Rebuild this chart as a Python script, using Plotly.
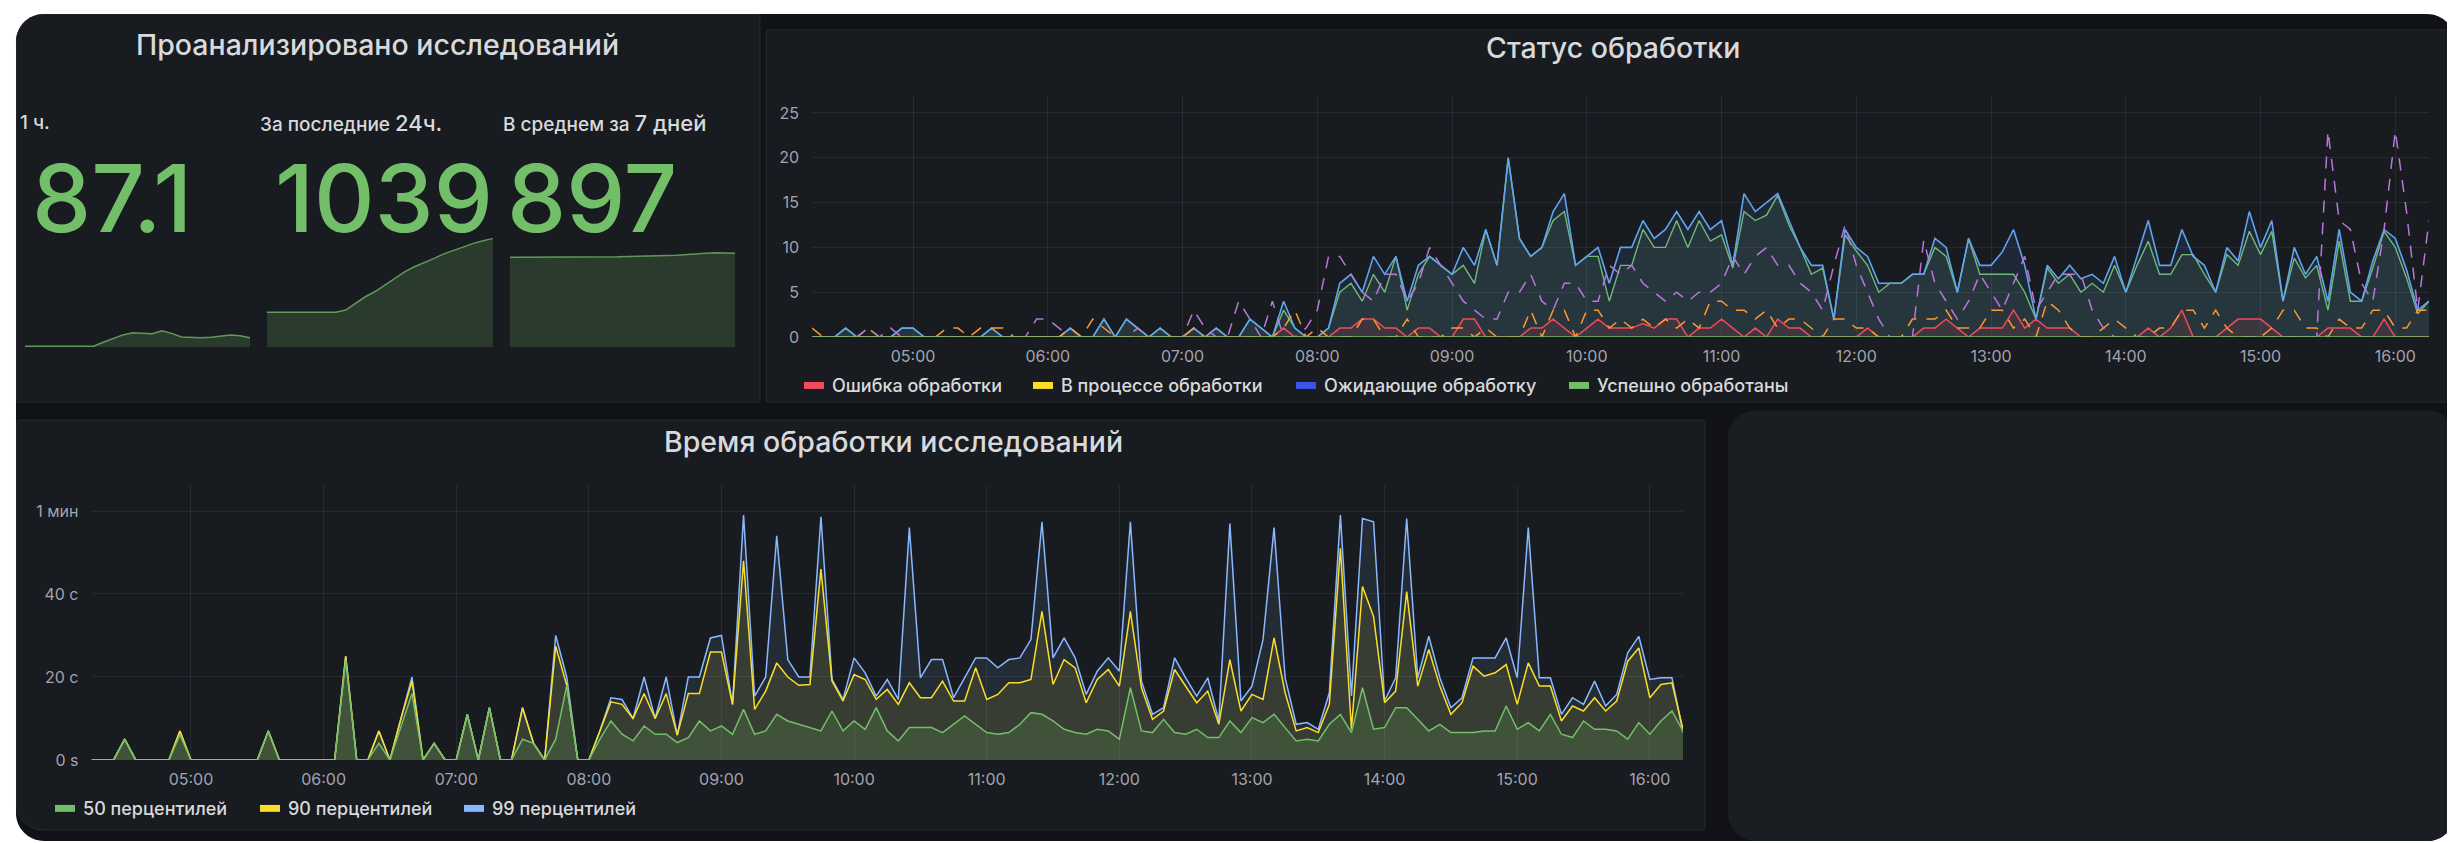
import plotly.graph_objects as go
import pandas as pd

W, H = 2455, 843

# ---------------- DATA ----------------
times = pd.date_range("2024-05-20 04:15", "2024-05-20 16:15", freq="5min")

status_total = [0,0,0,1,0,0,0,0,1,1,
                0,0,0,0,0,0,1,0,0,0,
                0,0,0,1,0,0,2,0,2,1,
                0,1,0,0,1,0,1,0,0,2,
                1,0,4,1,0,0,1,6,7,5,
                9,7,9,4,8,9,8,7,10,8,
                12,8,20,11,9,10,14,16,8,9,
                10,6,10,10,13,11,12,14,12,14,
                12,13,8,16,14,15,16,13,10,8,
                8,2,12,10,9,6,6,6,7,7,
                11,10,5,11,8,8,9.5,12,8,2,
                8,6.5,8,6.5,7,6,9,5,9,13,
                8,8,12,9,8,5,10,8.5,14,10,
                13,4,10,7,9,4,12,5,4,8.5,
                12,11,7.5,3,4]
status_success = [0,0,0,1,0,0,0,0,1,1,
                  0,0,0,0,0,0,1,0,0,0,
                  0,0,0,1,0,0,2,0,2,1,
                  0,1,0,0,1,0,1,0,0,2,
                  1,0,3,1,0,0,1,5,6,4,
                  7,5,9,3,7,9,8,7,8,6,
                  12,8,20,11,9,10,13,14,8,9,
                  9,4,8,8,12,10,10,13,10,13,
                  10.7,11.4,7.7,14,13,13.6,15.8,12.5,10,7,
                  7.7,2,11.4,9.6,8,5,6,6,7,7,
                  10,9,5,11,7,7,7,7,5,2,
                  7.7,6,7,5,6,5,8,5,8,10.7,
                  7,7,9.2,9.2,7,5,9.2,8,11.8,9.2,
                  11.8,4,8.8,6.6,8,3,10.7,4,4,7.7,
                  11.8,10,6.6,2.6,4]
status_error = [0,0,0,0,0,0,0,0,0,0,
                0,0,0,0,0,0,0,0,0,0,
                0,0,0,0,0,0,0,0,0,0,
                0,0,0,0,0,0,0,0,0,0,
                0,0,1,0,0,0,0,1,1,2,
                2,1,1,0,1,1,0,0,2,2,
                0,0,0,0,1,1,2,1,0,1,
                2,1,1,1,1.5,1,2,2,0,1,
                1,2,1,0,1,0,2,1,1,0,
                0,0,0,0,1,0,0,0,0,1,
                1,2,1,0,1,1,1,3,1,2,
                1,1,1,0,0,0,0,0,0,1,
                0,1,3,0,0,0,1,2,2,2,
                1,0,0,0,0,1,1,1,0,0,
                2,0,0,0,0]
status_in_progress = [1,0,0,0,0,1,0,0,0,0,
                      0,0,1,1,0,1,1,1,0,0,
                      0,0,0,1,0,2,1,0,0,0,
                      0,0,0,0,1,0,0,0,0,0,
                      0,0,1,3,0,1,0,0,0,2,
                      2,0,0,2,0,0,0,1,1,0,
                      1,0,0,0,3,0,3,3,0,3,
                      3,1,2,1,2,1,2,1,2,1,
                      4,4,3,3,2,3,1,2,2,1,
                      0,2,2,1,1,0,0,0,2,2,
                      2,3,1,1,1,3,3,1,2,0,
                      4,3,1,0,0,1,2,1,0,0,
                      1,1,3,3,1,3,1,0,0,0,
                      1,3,3,1,1,0,2,1,1,3,
                      3,1,1,3,3]
status_pending = [0,0,0,0,0,1,0,1,0,0,
                  0,0,0,0,0,0,0,0,0,0,
                  2,2,1,0,0,0,0,0,0,1,
                  0,0,0,0,3,1,0,0,4,2,
                  0,4,0,0,1,3,9,9,7,5,
                  4,7,7,4,6,10,8,6,4,3,
                  2,2,5,5,7,4,3,6,6,4,
                  4,8,7,8,6,5,4,5,4,5,
                  5,6,9,7,9,10,8,8,6,5,
                  3,8,12.5,8,5,2,0,0,0,10.8,
                  6,4,2,4,7,5,3,6,9,3,
                  5,7,7,7,3,1,0,0,0,0,
                  0,0,0,0,0,0,0,0,0,0,
                  0,0,0,0,0,23,13,12,6,4,
                  12,23,14,3,13]
status_waiting = [0,0,0,0,0,0,0,0,0,0, 0,0,0,0,0,0,0,0,0,0,
                  0,0,0,0,0,0,0,0,0,0, 0,0,0,0,0,0,0,0,0,0,
                  0,0,0,0,0,0,0,0,0,0, 0,0,0,0,0,0,0,0,0,0,
                  0,0,0,0,0,0,0,0,0,0, 0,0,0,0,0,0,0,0,0,0,
                  0,0,0,0,0,0,0,0,0,0, 0,0,0,0,0,0,0,0,0,0,
                  0,0,0,0,0,0,0,0,0,0, 0,0,0,0,0,0,0,0,0,0,
                  0,0,0,0,0,0,0,0,0,0, 0,0,0,0,0,0,0,0,0,0,
                  0,0,0,0,0]

p99 = [0,0,0,5,0,0,0,0,7,0,
       0,0,0,0,0,0,7,0,0,0,
       0,0,0,25,0,0,7,0,10,20,
       0,4,0,0,11,0,12.6,0,0,12.6,
       4,0,30,20,0,0,7,15,14.6,10,
       20,10,20,6,20,20,29.4,30,13.4,59,
       15.4,20,54,24.2,20,20,58.6,19.4,14.6,24.6,
       21,15.4,19.4,14.6,56,19.8,24.2,24.2,15,19.8,
       24.6,24.6,22.2,24.2,24.6,29,57.4,24.6,29.4,24.6,
       15.8,21.4,24.6,21.4,57.4,19,11,12.6,24.6,19.8,
       15.4,19.8,9.4,57,14.2,17.8,29,56,19.8,8.6,
       9,7.4,16.2,59,15.4,58.2,57.4,14.2,19.8,58.2,
       19.8,29.8,19.8,12.6,15,24.6,24.6,24.6,29.4,19.8,
       56,19.8,19.8,11,15,13.4,19,13,15.8,25.8,
       29.8,19.4,19.8,19.8,6.6]
p90 = [0,0,0,5,0,0,0,0,7,0,
       0,0,0,0,0,0,7,0,0,0,
       0,0,0,25,0,0,7,0,10,19,
       0,4,0,0,11,0,12.6,0,0,12.6,
       4,0,27.4,18,0,0,7,14,13.4,10,
       16,10,16,6,16,16,26,26,13.4,48,
       12.2,16.6,23.4,20,18,18.2,46,19,14.2,20.6,
       19.4,14.6,17,13.4,18.6,15,15,19,14.2,14.2,
       22.2,14.6,15.8,18.6,18.6,19.4,35.8,18.2,24.2,22.2,
       13.8,19.4,21.8,17.8,35.8,17.4,9.8,11.8,21.8,17.8,
       13.8,16.6,8.6,24.2,11.8,15.8,14.6,29.4,16.2,7,
       7.8,6.6,13.4,51,7.4,41.8,34.6,13.8,16.6,40.6,
       17.8,26.6,17.8,11,13.8,22.6,20.2,21,23,13.4,
       23.4,17.8,17.8,9.4,13,11.8,15,11.8,14.2,23.8,
       27,15,18.2,18.6,7.4]
p50 = [0,0,0,5,0,0,0,0,6,0,
       0,0,0,0,0,0,7,0,0,0,
       0,0,0,24,0,0,4,0,8,16,
       0,4,0,0,11,0,12.6,0,0,5,
       4,0,5,18,0,0,5,9.4,6.2,4.6,
       8.2,6.2,6.2,4.2,5.4,9.4,7,8.2,6.2,12.2,
       6.2,7,11,9.4,8.6,7.8,7,11.8,7,9.4,
       7.4,12.6,7,4.6,7.8,7.8,7.8,6.6,8.6,10.6,
       8.6,6.6,6.2,6.6,8.6,11.4,11,9.4,7.4,6.6,
       6.2,7.4,7,5,17.4,7,6.6,9.8,6.6,6.2,
       7.4,5.4,5.4,9.4,6.6,10.2,9,11,7.8,4.6,
       5,4.6,8.6,11,6.6,17.4,7.4,7.8,12.6,12.6,
       9.8,7,8.6,6.6,6.6,6.6,7,7,13,7.4,
       9,7,11,6.2,5.4,9.4,7.4,7.4,7,5,
       9,6.2,9.4,11.8,7]

spark_1h = [6,6,6,6,6,6,6,6,45,80,115,135,128,126,155,130,95,88,88,92,105,115,108,87.1]
spark_24h = [331,331,331,331,331,331,331,331,353,420,480,530,590,655,718,767,805,847,890,924,958,991,1015,1039]
spark_7d = [857,857,857,857,857,857,857,857,857,857,859,862,865,866,869,872,875,878,882,888,897,902,901,897]

stat_labels = ["1 ч.", "За последние <span style='font-size:22px'>24ч.</span>",
               "В среднем за <span style='font-size:22px'>7 дней</span>"]
stat_values = ["87.1", "1039", "897"]

status_names = ["Ошибка обработки", "В процессе обработки", "Ожидающие обработку", "Успешно обработаны"]
status_legend_colors = ["#F2495C", "#FADE2A", "#3D53E6", "#73BF69"]
time_names = ["50 перцентилей", "90 перцентилей", "99 перцентилей"]
time_legend_colors = ["#73BF69", "#FADE2A", "#8AB8FF"]

status_yticks = [0, 5, 10, 15, 20, 25]
time_yticks = [0, 20, 40, 60]
time_yticktext = ["0 s", "20 с", "40 с", "1 мин"]

# ---------------- HELPERS ----------------
def px(x):
    return x / W


def py(y):
    return 1 - y / H


def rrect_path(x0, y0, x1, y1, rtl=0, rtr=0, rbr=0, rbl=0):
    k = 0.5523
    def P(x, y):
        return f"{px(x):.6f},{py(y):.6f}"
    s = f"M{P(x0 + rtl, y0)} L{P(x1 - rtr, y0)} "
    if rtr:
        s += f"C{P(x1 - rtr + k * rtr, y0)} {P(x1, y0 + rtr - k * rtr)} {P(x1, y0 + rtr)} "
    s += f"L{P(x1, y1 - rbr)} "
    if rbr:
        s += f"C{P(x1, y1 - rbr + k * rbr)} {P(x1 - rbr + k * rbr, y1)} {P(x1 - rbr, y1)} "
    s += f"L{P(x0 + rbl, y1)} "
    if rbl:
        s += f"C{P(x0 + rbl - k * rbl, y1)} {P(x0, y1 - rbl + k * rbl)} {P(x0, y1 - rbl)} "
    s += f"L{P(x0, y0 + rtl)} "
    if rtl:
        s += f"C{P(x0, y0 + rtl - k * rtl)} {P(x0 + rtl - k * rtl, y0)} {P(x0 + rtl, y0)} "
    return s + "Z"


BG = "#111217"
PANEL = "#181b1f"
BORDER = "rgba(204,204,220,0.10)"
TEXT = "#d8d9dc"
TICK = "rgba(204,204,220,0.78)"
GRID = "rgba(204,204,220,0.09)"
FONT = "Inter"
DASH = "12px,10px"

fig = go.Figure()

# ---------------- STATUS CHART (x, y) ----------------
fig.add_trace(go.Scatter(x=times, y=status_success, mode="lines", line=dict(color="#73BF69", width=1.4),
                         fill="tozeroy", fillcolor="rgba(115,191,105,0.10)", xaxis="x", yaxis="y",
                         showlegend=False, name=status_names[3]))
fig.add_trace(go.Scatter(x=times, y=status_total, mode="lines", line=dict(color="#62A3EE", width=1.6),
                         fill="tozeroy", fillcolor="rgba(87,148,242,0.11)", xaxis="x", yaxis="y",
                         showlegend=False, name="Всего"))
fig.add_trace(go.Scatter(x=times, y=status_error, mode="lines", line=dict(color="#F2495C", width=1.5),
                         fill="tozeroy", fillcolor="rgba(242,73,92,0.10)", xaxis="x", yaxis="y",
                         showlegend=False, name=status_names[0]))
fig.add_trace(go.Scatter(x=times, y=status_in_progress, mode="lines",
                         line=dict(color="#FF9830", width=1.5, dash=DASH), xaxis="x", yaxis="y",
                         showlegend=False, name=status_names[1]))
fig.add_trace(go.Scatter(x=times, y=status_pending, mode="lines",
                         line=dict(color="#B877D9", width=1.5, dash=DASH), xaxis="x", yaxis="y",
                         showlegend=False, name="В очереди"))
fig.add_trace(go.Scatter(x=times, y=status_waiting, mode="lines", line=dict(color="#73BF69", width=1.5),
                         xaxis="x", yaxis="y", showlegend=False, name=status_names[2]))

# ---------------- TIME CHART (x2, y2) ----------------
fig.add_trace(go.Scatter(x=times, y=p99, mode="lines", line=dict(color="#8AB8FF", width=1.5),
                         fill="tozeroy", fillcolor="rgba(138,184,255,0.10)", xaxis="x2", yaxis="y2",
                         showlegend=False, name=time_names[2]))
fig.add_trace(go.Scatter(x=times, y=p90, mode="lines", line=dict(color="#FADE2A", width=1.5),
                         fill="tozeroy", fillcolor="rgba(250,222,42,0.10)", xaxis="x2", yaxis="y2",
                         showlegend=False, name=time_names[1]))
fig.add_trace(go.Scatter(x=times, y=p50, mode="lines", line=dict(color="#73BF69", width=1.5),
                         fill="tozeroy", fillcolor="rgba(115,191,105,0.16)", xaxis="x2", yaxis="y2",
                         showlegend=False, name=time_names[0]))

# ---------------- SPARKLINES (x3..x5, y3..y5) ----------------
for i, s in enumerate([spark_1h, spark_24h, spark_7d]):
    fig.add_trace(go.Scatter(x=list(range(len(s))), y=s, mode="lines",
                             line=dict(color="rgba(115,191,105,0.75)", width=1.5),
                             fill="tozeroy", fillcolor="rgba(115,191,105,0.20)",
                             xaxis=f"x{i + 3}", yaxis=f"y{i + 3}", showlegend=False,
                             hoverinfo="skip"))

# ---------------- AXES ----------------
xr = ["2024-05-20 04:15", "2024-05-20 16:15"]
common_x = dict(type="date", range=xr, dtick=3600000, tick0="2024-05-20 05:00", tickformat="%H:%M",
                showgrid=True, gridcolor=GRID, gridwidth=1, zeroline=False, showline=False,
                ticks="", tickfont=dict(family=FONT, size=16, color=TICK), ticklabelstandoff=8,
                fixedrange=True)
status_x0, status_x1, status_y0, status_y1 = 804, 2421, 89, 333
time_x0, time_x1, time_y0, time_y1 = 83.5, 1675, 483, 761

layout_axes = dict(
    xaxis=dict(domain=[px(status_x0), px(status_x1)], anchor="y", **common_x),
    yaxis=dict(domain=[py(status_y1), py(status_y0)], anchor="x", range=[0, 26.9],
               tickvals=status_yticks, showgrid=True, gridcolor=GRID, zeroline=False,
               ticks="", tickfont=dict(family=FONT, size=16, color=TICK), ticklabelstandoff=12,
               fixedrange=True),
    xaxis2=dict(domain=[px(time_x0), px(time_x1)], anchor="y2", **common_x),
    yaxis2=dict(domain=[py(time_y1), py(time_y0)], anchor="x2", range=[0, 66.2],
                tickvals=time_yticks, ticktext=time_yticktext, showgrid=True, gridcolor=GRID,
                zeroline=False, ticks="", tickfont=dict(family=FONT, size=16, color=TICK),
                ticklabelstandoff=12, fixedrange=True),
)
spark_x = [(17, 242), (259, 485), (502, 727)]
for i, (a, b) in enumerate(spark_x):
    n = i + 3
    layout_axes[f"xaxis{n}"] = dict(domain=[px(a), px(b)], anchor=f"y{n}", range=[0, 23],
                                    visible=False, fixedrange=True)
    layout_axes[f"yaxis{n}"] = dict(domain=[py(343), py(233)], anchor=f"x{n}", range=[0, 1040],
                                    visible=False, fixedrange=True)

# ---------------- SHAPES (panels, legend swatches) ----------------
shapes = []
def panel(x0, y0, x1, y1, fill, line=None, **r):
    shapes.append(dict(type="path", xref="paper", yref="paper", path=rrect_path(x0, y0, x1, y1, **r),
                       fillcolor=fill, line=dict(width=1 if line else 0, color=line or fill),
                       layer="below"))

panel(8, 6, 2447, 843, BG, rtl=28, rtr=28, rbr=28, rbl=28)
panel(8, 6, 752, 399, PANEL, BORDER, rtl=28, rtr=3, rbr=3, rbl=3)
panel(758, 22, 2440, 399, PANEL, BORDER, rtl=3, rtr=3, rbr=3, rbl=3)
panel(8, 417, 1697, 832, PANEL, BORDER, rtl=3, rtr=3, rbr=3, rbl=28)
panel(1720, 407, 2447, 843, "#1a1d21", None, rtl=28, rtr=28, rbr=28, rbl=28)

annotations = []
def legend_item(xbar, ybar, color, text):
    shapes.append(dict(type="rect", xref="paper", yref="paper", x0=px(xbar), x1=px(xbar + 20),
                       y0=py(ybar + 3.5), y1=py(ybar - 3.5), fillcolor=color, line=dict(width=0),
                       layer="above"))
    annotations.append(dict(x=px(xbar + 26), y=py(ybar), xref="paper", yref="paper", text=text,
                            showarrow=False, xanchor="left", yanchor="middle",
                            font=dict(family=FONT, size=18, color=TEXT, weight=500)))

for xb, c, t in zip([796, 1025, 1288, 1561], status_legend_colors, status_names):
    legend_item(xb, 382, c, t)
for xb, c, t in zip([47, 252, 456], time_legend_colors, time_names):
    legend_item(xb, 810, c, t)

# ---------------- TEXT ----------------
def title(x, y, text):
    annotations.append(dict(x=px(x), y=py(y), xref="paper", yref="paper", text=text, showarrow=False,
                            xanchor="center", yanchor="middle",
                            font=dict(family=FONT, size=28.5, color=TEXT, weight=500)))

title(369, 37, "Проанализировано исследований")
title(1605, 40, "Статус обработки")
title(885, 439, "Время обработки исследований")

for x, lab in zip([10, 250, 493], stat_labels):
    annotations.append(dict(x=px(x), y=py(116), xref="paper", yref="paper", text=lab, showarrow=False,
                            xanchor="left", yanchor="middle",
                            font=dict(family=FONT, size=19, color=TEXT, weight=500)))
for x, val in zip([22, 265, 497], stat_values):
    annotations.append(dict(x=px(x), y=py(192), xref="paper", yref="paper", text=val, showarrow=False,
                            xanchor="left", yanchor="middle",
                            font=dict(family=FONT, size=94, color="#73BF69", weight=500)))

fig.update_layout(
    width=W, height=H, margin=dict(l=0, r=0, t=0, b=0),
    paper_bgcolor="#ffffff", plot_bgcolor="rgba(0,0,0,0)",
    font=dict(family=FONT, color=TEXT),
    showlegend=False, shapes=shapes, annotations=annotations,
    hovermode=False,
    **layout_axes,
)

fig.write_html("out.html", config={"displayModeBar": False})
